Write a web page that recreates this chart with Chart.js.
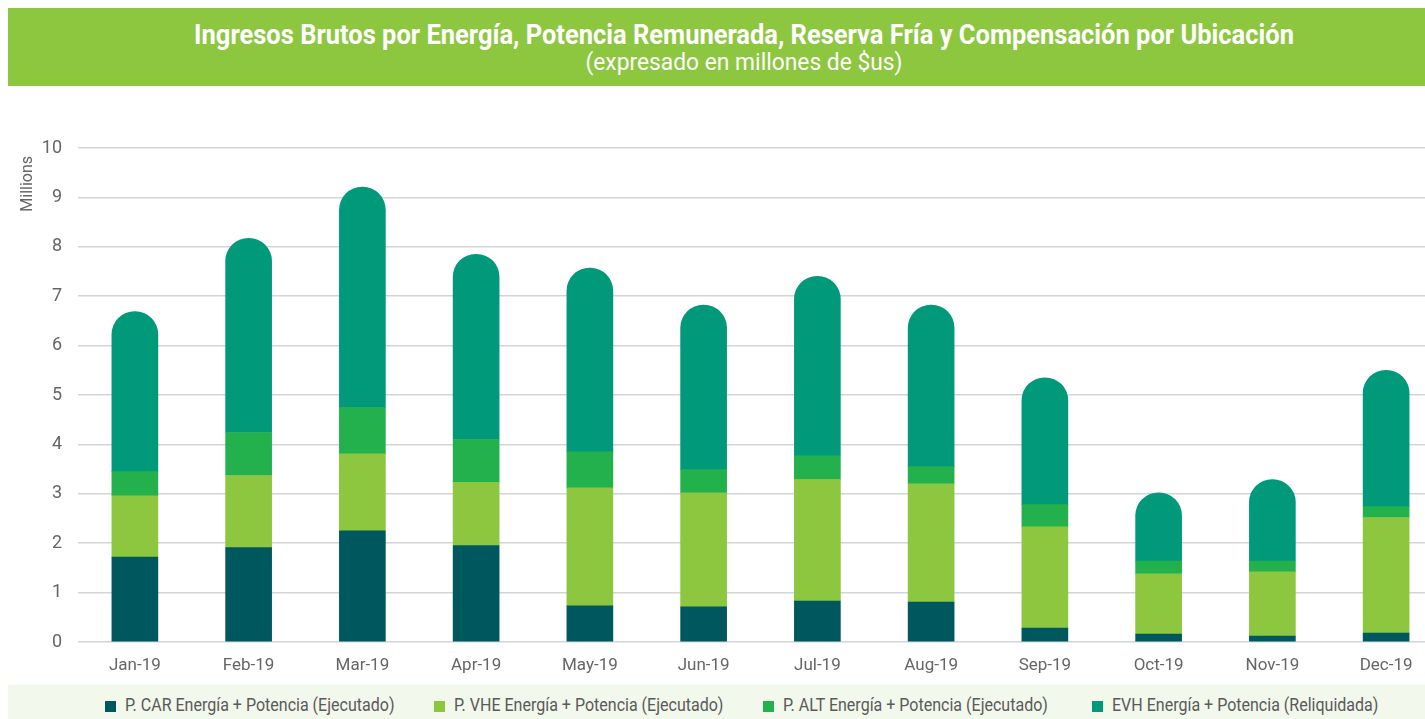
<!DOCTYPE html>
<html>
<head>
<meta charset="utf-8">
<script src="https://cdn.jsdelivr.net/npm/chart.js@4.4.1/dist/chart.umd.min.js"></script>
<style>
    html, body { margin: 0; padding: 0; background: #fff; }
    body { width: 1425px; height: 719px; overflow: hidden; position: relative; font-family: 'Roboto', sans-serif; }
    .header {
        position: absolute; left: 8px; top: 8px; width: 1417px; height: 78px;
        background: #8dc63f; color: #fff; text-align: center;
    }
    .header .t1 { font-weight: bold; font-size: 28px; line-height: 30px; margin-top: 12px; margin-left: 55px; transform: scaleX(0.91); }
    .header .t2 { font-size: 24px; line-height: 26px; margin-top: -1px; margin-left: 55px; transform: scaleX(0.95); }
    .chart-wrap { position: absolute; left: 0; top: 91px; width: 1445px; height: 590px; }
    .legend {
        position: absolute; left: 8px; top: 685px; width: 1417px; height: 34px;
        background: #f2f8ec; font-size: 18px; color: #5a5a5a; white-space: nowrap;
    }
    .legend .items { padding-left: 97px; padding-top: 3px; line-height: 34px; }
    .legend .item { display: inline-block; width: 329px; }
    .legend .box { display: inline-block; width: 11px; height: 11px; margin-right: 9px; vertical-align: -1px; }
    .legend .label { display: inline-block; transform: scaleX(0.89); transform-origin: left center; }
</style>
</head>
<body>
<div class="header">
    <div class="t1">Ingresos Brutos por Energía, Potencia Remunerada, Reserva Fría y Compensación por Ubicación</div>
    <div class="t2">(expresado en millones de $us)</div>
</div>
<div class="chart-wrap"><canvas id="chart"></canvas></div>
<div class="legend"><div class="items" id="legend"></div></div>
<script>
const months = ['Jan-19', 'Feb-19', 'Mar-19', 'Apr-19', 'May-19', 'Jun-19', 'Jul-19', 'Aug-19', 'Sep-19', 'Oct-19', 'Nov-19', 'Dec-19'];

// millones de $us
const carValues = [1.72, 1.91, 2.25, 1.95, 0.73, 0.71, 0.83, 0.81, 0.28, 0.16, 0.12, 0.18];
const vheValues = [1.24, 1.46, 1.56, 1.28, 2.39, 2.31, 2.46, 2.39, 2.05, 1.22, 1.30, 2.34];
const altValues = [0.49, 0.87, 0.94, 0.87, 0.73, 0.47, 0.48, 0.35, 0.45, 0.26, 0.22, 0.22];
const evhValues = [3.24, 3.93, 4.46, 3.75, 3.72, 3.33, 3.63, 3.27, 2.57, 1.38, 1.65, 2.76];

const seriesNames = [
    'P. CAR Energía + Potencia (Ejecutado)',
    'P. VHE Energía + Potencia (Ejecutado)',
    'P. ALT Energía + Potencia (Ejecutado)',
    'EVH Energía + Potencia (Reliquidada)'
];

const colors = {
    car: '#00585f',
    vhe: '#8dc63f',
    alt: '#22b14c',
    evh: '#009a7a',
    grid: '#d2d5d8',
    text: '#666666'
};

const fontFamily = "'Roboto', sans-serif";

const seriesColors = [colors.car, colors.vhe, colors.alt, colors.evh];
const seriesValues = [carValues, vheValues, altValues, evhValues];

const datasets = seriesValues.map((vals, i) => ({
    label: seriesNames[i],
    data: vals,
    backgroundColor: seriesColors[i],
    barThickness: 46,
    borderWidth: 0,
    borderRadius: i === 3 ? { topLeft: 23, topRight: 23, bottomLeft: 0, bottomRight: 0 } : 0,
    borderSkipped: 'start'
}));

// HTML legend
const legendEl = document.getElementById('legend');
legendEl.innerHTML = seriesNames.map((name, i) =>
    `<span class="item"><span class="box" style="background:${seriesColors[i]}"></span><span class="label">${name}</span></span>`
).join('');

new Chart(document.getElementById('chart').getContext('2d'), {
    type: 'bar',
    data: { labels: months, datasets: datasets },
    options: {
        responsive: true,
        maintainAspectRatio: false,
        animation: false,
        layout: { padding: { top: 57, right: 2, left: 0, bottom: 0 } },
        plugins: {
            legend: { display: false },
            tooltip: { enabled: false }
        },
        scales: {
            x: {
                stacked: true,
                grid: { display: false, drawTicks: false },
                border: { display: false },
                ticks: { color: colors.text, font: { family: fontFamily, size: 17 }, padding: 14, maxRotation: 0 },
                afterFit: s => { s.height = 39; }
            },
            y: {
                stacked: true,
                min: 0,
                max: 10,
                grid: { color: colors.grid, lineWidth: 1.5, drawTicks: false },
                border: { display: false },
                ticks: { stepSize: 1, color: colors.text, font: { family: fontFamily, size: 18 }, padding: 16 },
                title: {
                    display: true, text: 'Millions  ', align: 'end',
                    color: colors.text, font: { family: fontFamily, size: 16 }, padding: { top: 18, bottom: 0 }
                },
                afterFit: s => { s.width = 78; }
            }
        }
    }
});
</script>
</body>
</html>
